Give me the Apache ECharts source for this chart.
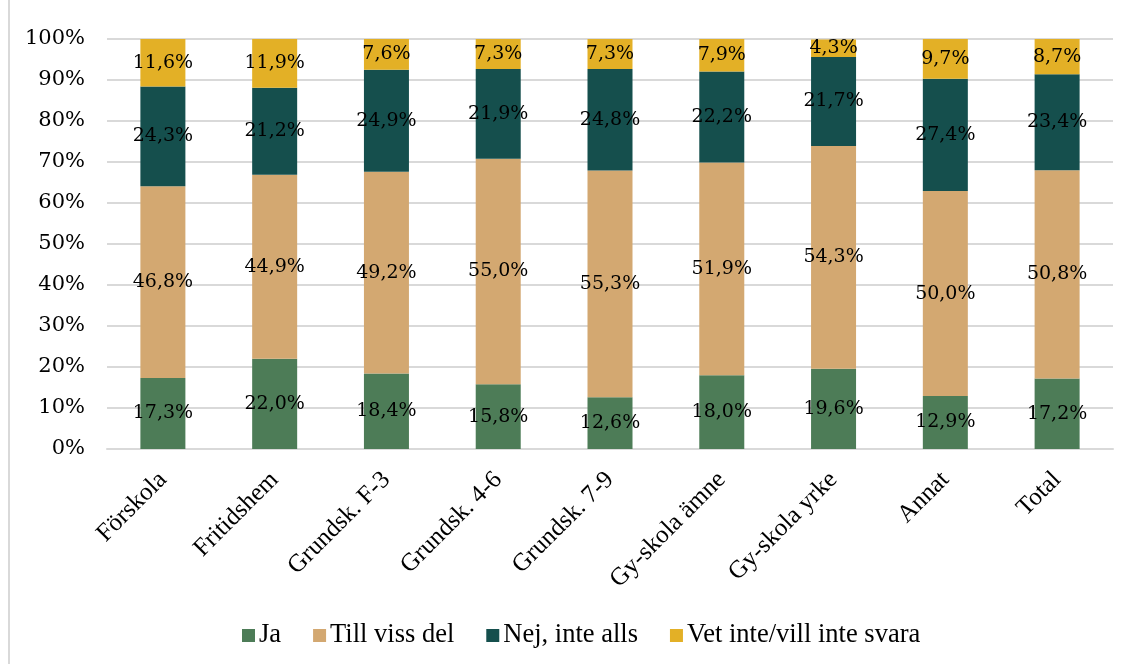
<!DOCTYPE html>
<html>
<head>
<meta charset="utf-8">
<script src="https://cdn.jsdelivr.net/npm/echarts@6/dist/echarts.min.js"></script>
<style>
html,body{margin:0;padding:0;background:#fff;}
#chart{width:1131px;height:664px;}
</style>
</head>
<body>
<div id="chart"></div>
<script>
const categories = ['Förskola','Fritidshem','Grundsk. F-3','Grundsk. 4-6','Grundsk. 7-9','Gy-skola ämne','Gy-skola yrke','Annat','Total'];
const seriesNames = ['Ja','Till viss del','Nej, inte alls','Vet inte/vill inte svara'];
const ja = [17.3, 22.0, 18.4, 15.8, 12.6, 18.0, 19.6, 12.9, 17.2];
const tillVissDel = [46.8, 44.9, 49.2, 55.0, 55.3, 51.9, 54.3, 50.0, 50.8];
const nej = [24.3, 21.2, 24.9, 21.9, 24.8, 22.2, 21.7, 27.4, 23.4];
const vetInte = [11.6, 11.9, 7.6, 7.3, 7.3, 7.9, 4.3, 9.7, 8.7];
const colors = ['#4d7c57','#d3a871','#154f4d','#e3b026'];

const dataSets = [ja, tillVissDel, nej, vetInte];
const labelFont = 'DejaVu Serif';
const textFont = 'Liberation Serif';

const chart = echarts.init(document.getElementById('chart'), null, {renderer:'canvas'});
chart.setOption({
  animation:false,
  backgroundColor:'#fff',
  color: colors,
  grid:{left:107,right:18,top:39,bottom:215,containLabel:false},
  legend:{
    bottom:15,
    left:242,
    padding:0,
    itemWidth:13,itemHeight:13,itemGap:32,
    icon:'rect',
    textStyle:{fontFamily:textFont,fontSize:26.5,color:'#000',padding:[0,0,0,-1]},
    data: seriesNames
  },
  xAxis:{
    type:'category',
    data:categories,
    axisLine:{show:true,lineStyle:{color:'#d9d9d9',width:2}},
    axisTick:{show:false},
    axisLabel:{rotate:45,interval:0,fontFamily:textFont,fontSize:25,color:'#000',margin:27}
  },
  yAxis:{
    type:'value',
    min:0,max:100,interval:10,
    axisLine:{show:false},
    axisTick:{show:false},
    splitLine:{lineStyle:{color:'#d9d9d9',width:2}},
    axisLabel:{formatter:'{value}%',fontFamily:labelFont,fontSize:21,color:'#000',margin:22}
  },
  graphic:[{type:'line',shape:{x1:9,y1:0,x2:9,y2:664},style:{stroke:'#d9d9d9',lineWidth:2},silent:true}],
  series: dataSets.map((d,i)=>({
    name:seriesNames[i],
    type:'bar',
    stack:'total',
    barWidth:45,
    data:d,
    label:{
      show:true,position:'inside',
      fontFamily:labelFont,fontSize:19,color:'#000',
      formatter:p=>p.value.toFixed(1).replace('.',',')+'%'
    }
  }))
});
</script>
</body>
</html>
